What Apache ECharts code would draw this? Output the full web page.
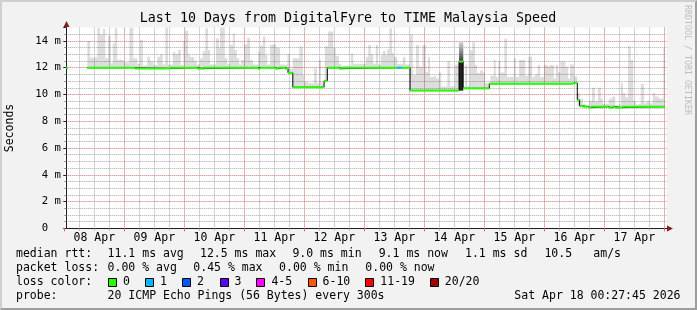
<!DOCTYPE html>
<html><head><meta charset="utf-8">
<script src="https://cdn.jsdelivr.net/npm/echarts@6/dist/echarts.min.js"></script>
<style>
html,body{margin:0;padding:0;background:#f2f2f2;overflow:hidden;}
#wrap{position:relative;width:697px;height:310px;}
#c{position:absolute;left:0;top:0;width:697px;height:310px;}
#frame{position:absolute;left:0;top:0;width:697px;height:310px;box-sizing:border-box;
  border-top:2px solid #cfcfcf;border-left:2px solid #cfcfcf;border-right:2px solid #9e9e9e;border-bottom:2px solid #9e9e9e;pointer-events:none;}
</style></head>
<body><div id="wrap"><div id="c"></div><div id="frame"></div></div>
<script>
// ---- data (hours since 08 Apr 00:00, values in ms) ----
const dayLabels = ['08 Apr','09 Apr','10 Apr','11 Apr','12 Apr','13 Apr','14 Apr','15 Apr','16 Apr','17 Apr'];
const yTickValues = [0, 2, 4, 6, 8, 10, 12, 14];
const yTickText = ['0  ', '2 m', '4 m', '6 m', '8 m', '10 m', '12 m', '14 m'];

const medianStart = [0.7, 1.5, 9.2, 28.2, 42.3, 53.2, 55.4, 77.5, 78.3, 84.4, 85.5, 88.3, 89.5, 91.4, 103.9, 105.2, 110.0, 111.3, 133.1, 135.1, 138.3, 157.9, 159.5, 170.0, 203.6, 205.2, 206.1, 207.5, 209.6, 210.7, 217.7, 218.9, 220.3, 223.1];
const medianValue = [12.0, null, 12.0, 11.94, 12.0, 11.93, 12.0, 11.93, 12.0, 11.93, 12.0, 11.93, 11.62, 10.54, 11.02, 12.0, 11.93, 12.0, 12.0, 12.0, 10.29, 12.46, 10.46, 10.81, 10.86, 9.59, 9.14, 9.09, 9.02, 9.09, 9.02, 9.09, 9.02, 9.09];
const medianLoss  = [0, 0, 0, 0, 0, 0, 0, 0, 0, 0, 0, 0, 0, 0, 0, 0, 0, 0, 1, 0, 0, 0, 0, 0, 0, 0, 0, 0, 0, 0, 0, 0, 0, 0];
const medianEnd = 240.2;

const smokeStart = [9.2,10.3,13.2,14.3,15.4,16.4,17.5,18.6,19.4,20.2,21.2,23.9,26.0,27.6,29.2,30.3,31.4,33.2,34.3,35.6,37.2,38.3,39.4,40.4,41.5,43.4,44.4,45.5,46.6,47.6,48.2,
49.5,50.3,51.9,53.0,54.3,55.4,56.4,57.5,58.3,60.7,61.8,62.3,64.2,65.2,66.3,67.4,68.2,69.0,70.0,70.8,71.9,73.2,74.3,75.4,77.5,78.3,79.4,80.4,81.2,82.3,83.4,84.7,86.3,89.2,90.3,91.4,94.0,95.4,
95.9,97.5,99.9,101.0,101.9,102.7,103.9,104.2,105.5,107.6,108.6,109.9,110.7,114.6,115.6,120.6,121.6,122.6,123.6,124.6,125.5,126.6,127.4,128.4,129.2,130.0,131.1,131.9,133.2,135.4,136.4,138.3,139.4,140.7,141.9,143.2,144.6,
145.5,146.3,147.9,148.7,149.8,150.8,153.2,154.3,156.2,157.2,157.9,159.6,160.3,161.2,162.2,163.2,164.3,165.1,166.2,167.5,168.3,169.8,170.4,171.8,172.6,173.6,174.4,176.0,177.1,179.8,180.6,181.9,184.4,185.6,187.1,188.2,189.4,190.3,191.8,193.4,194.2,195.8,196.6,197.5,198.4,200.4,201.5,202.3,203.9,
205.2,206.3,207.4,208.4,210.0,211.1,212.2,213.5,214.6,215.4,217.8,219.1,220.4,221.5,222.6,223.4,224.4,225.5,226.6,227.6,228.7,229.8,230.6,231.9,232.7,234.0,235.4,236.4,237.8,239.6];
const smokeTop = [14.0,12.76,15,14.46,14.9,12.7,14.4,12.33,13.83,15,12.58,12.41,15,12.7,12.28,14.08,12.16,12.83,12.47,12.2,12.83,13.0,12.25,15,12.25,13.2,13.0,13.33,12.2,14.0,14.76,
13.0,12.8,12.55,12.25,12.7,13.26,14.96,13.33,12.25,14.2,13.5,15,12.7,12.25,13.7,14.58,13.33,12.7,12.25,12.58,13.75,14.25,12.58,12.25,13.2,13.66,14.33,12.95,12.25,13.7,13.75,13.5,12.25,13.0,11.9,12.7,13.58,11.46,
10.96,10.85,11.96,10.85,12.58,10.85,11.1,13.6,14.7,13.5,12.9,12.3,12.15,13.08,12.3,12.8,13.7,13.0,12.3,13.7,12.25,12.95,13.25,12.95,13.4,14.96,13.08,12.8,12.3,12.8,12.25,14.5,11.46,13.7,12.08,13.7,11.7,
12.8,11.3,11.4,11.2,11.65,10.6,12.5,10.6,12.2,12.3,12.46,10.6,12.2,10.6,13.33,13.9,12.2,11.6,11.8,11.65,10.85,10.6,11.4,12.58,11.3,12.5,11.65,14.16,11.3,12.7,11.3,12.58,11.4,12.83,11.3,11.5,12.2,11.3,12.2,12.1,12.2,11.2,12.2,11.65,12.46,12.08,11.2,12.25,11.35,
10.08,9.66,9.3,9.2,9.5,10.51,9.5,10.5,9.7,9.3,9.7,9.85,9.2,9.25,10.9,10.1,9.8,13.58,12.58,9.5,9.26,9.3,10.8,9.35,9.5,9.35,10.1,9.85,9.7,13.5];
const smokeEnd = 240.2;

const darkStart = [157.9], darkEnd = [159.6], darkLow = [10.29], darkMid = [12.46], darkHigh = [14.0];

const lossColors = ['#26ff00', '#00b8ff', '#0059ff', '#5e00ff', '#ff00ff', '#ff5500', '#ff0000', '#a10000'];
const lossLabels = ['0', '1', '2', '3', '4-5', '6-10', '11-19', '20/20'];

// ---- build series data ----
function medianAt(t) {
  let v = null;
  for (let i = 0; i < medianStart.length; i++) { if (medianStart[i] <= t) v = medianValue[i]; else break; }
  return v;
}
function medianMinIn(t0, t1) {
  let m = medianAt(t0);
  for (let i = 0; i < medianStart.length; i++) {
    if (medianStart[i] > t0 && medianStart[i] < t1 && medianValue[i] != null) m = Math.min(m, medianValue[i]);
  }
  return m;
}
const smokeData = [];
for (let i = 0; i < smokeStart.length; i++) {
  const t0 = smokeStart[i], t1 = (i + 1 < smokeStart.length) ? smokeStart[i + 1] : smokeEnd;
  const lo = medianMinIn(t0, t1);
  smokeData.push([t0, t1, lo, Math.max(lo, smokeTop[i])]);
}
const segData = [];
for (let i = 0; i < medianStart.length; i++) {
  if (medianValue[i] == null) continue;
  const t1 = (i + 1 < medianStart.length) ? medianStart[i + 1] : medianEnd;
  segData.push([medianStart[i], t1, medianValue[i], medianLoss[i]]);
}
const stepData = [];
for (let i = 2; i < medianStart.length; i++) stepData.push([medianStart[i], medianValue[i]]);
stepData.push([medianEnd, medianValue[medianValue.length - 1]]);
const darkData = darkStart.map((s, i) => [s, darkEnd[i], darkLow[i], darkMid[i], darkHigh[i]]);

// ---- chart ----
const MONO = 'DejaVu Sans Mono';
const chart = echarts.init(document.getElementById('c'), null, {renderer: 'canvas'});
const commonX = {type: 'value', min: 0, max: 241, gridIndex: 0, position: 'bottom', offset: 0};
const commonY = {type: 'value', min: 0, max: 15, gridIndex: 0, position: 'left', offset: -2};
const MINOR = {color: '#a9a9a9', type: [1, 1], width: 1};
const MAJOR = {color: '#ef9494', type: [1, 1], width: 1};

function txt(x, y, s, opts) {
  opts = opts || {};
  return {type: 'text', x: x, y: y, silent: true, rotation: opts.rotation || 0, z: 100,
    style: {text: s, fontFamily: MONO, fontSize: opts.size || 11.5, fill: opts.color || '#000',
      align: opts.align || 'left', verticalAlign: 'middle', textAlign: opts.align || 'left', textVerticalAlign: 'middle'}};
}
const graphics = [];
graphics.push(txt(348, 19, 'Last 10 Days from DigitalFyre to TIME Malaysia Speed', {size: 13.3, align: 'center'}));
graphics.push(txt(10, 128, 'Seconds', {rotation: Math.PI / 2, align: 'center'}));
graphics.push(txt(687, 60, 'RRDTOOL / TOBI OETIKER', {rotation: -Math.PI / 2, align: 'center', size: 8.3, color: '#bdbdbd'}));
// axis arrows
graphics.push({type: 'polygon', silent: true, z: 100, shape: {points: [[66.5, 21], [63.5, 27], [69.5, 27]]}, style: {fill: '#801f1f'}});
graphics.push({type: 'polygon', silent: true, z: 100, shape: {points: [[673, 228.5], [667, 225.5], [667, 231.5]]}, style: {fill: '#801f1f'}});
// legend lines
const L1 = 254.3, L2 = 268.3, L3 = 282.3, L4 = 296.2;
[['median rtt:', 16], ['11.1 ms avg', 107.6], ['12.5 ms max', 200], ['9.0 ms min', 292.4], ['9.1 ms now', 378.7], ['1.1 ms sd', 465], ['10.5', 544.4], ['am/s', 593.3]]
  .forEach(p => graphics.push(txt(p[1], L1, p[0])));
[['packet loss:', 16], ['0.00 % avg', 107.6], ['0.45 % max', 193.3], ['0.00 % min', 279.1], ['0.00 % now', 365.3]]
  .forEach(p => graphics.push(txt(p[1], L2, p[0])));
graphics.push(txt(16, L3, 'loss color:'));
const boxX = [108, 145, 182, 219.6, 256.4, 307.6, 365.3, 429.8];
lossLabels.forEach((lab, i) => {
  graphics.push({type: 'rect', silent: true, z: 100, shape: {x: Math.round(boxX[i]) + 0.5, y: 278.5, width: 8, height: 8},
    style: {fill: lossColors[i], stroke: '#000', lineWidth: 1}});
  graphics.push(txt(boxX[i] + 15, L3, lab));
});
graphics.push(txt(16, L4, 'probe:'));
graphics.push(txt(107.6, L4, '20 ICMP Echo Pings (56 Bytes) every 300s'));
graphics.push(txt(680.5, L4, 'Sat Apr 18 00:27:45 2026', {align: 'right'}));

const option = {
  animation: false,
  backgroundColor: 'transparent',
  grid: {left: 64.3, top: 27.6, width: 602.5, height: 200.7, show: true, backgroundColor: '#ffffff', borderWidth: 0, containLabel: false},
  xAxis: [
    Object.assign({}, commonX, {interval: 6,
      splitLine: {show: true, showMinLine: false, showMaxLine: false, lineStyle: MINOR},
      axisLine: {show: false, onZero: false}, axisTick: {show: true, length: 2, lineStyle: {color: '#9a9a9a'}}, axisLabel: {show: false}}),
    Object.assign({}, commonX, {interval: 24,
      splitLine: {show: true, showMinLine: false, showMaxLine: false, lineStyle: MAJOR},
      axisLine: {show: true, onZero: false, lineStyle: {color: '#1f1f1f', width: 1}}, axisTick: {show: true, length: 3, lineStyle: {color: '#e06060'}}, axisLabel: {show: false}}),
    Object.assign({}, commonX, {interval: 12, splitLine: {show: false}, axisLine: {show: false, onZero: false}, axisTick: {show: false},
      axisLabel: {show: true, margin: 4, fontFamily: MONO, fontSize: 11.5, color: '#000', showMinLabel: false, showMaxLabel: false,
        formatter: v => { const k = (v - 12) / 24; return (Number.isInteger(k) && dayLabels[k]) ? dayLabels[k] : ''; }}})
  ],
  yAxis: [
    Object.assign({}, commonY, {interval: 0.5,
      splitLine: {show: true, showMinLine: false, showMaxLine: false, lineStyle: MINOR},
      axisLine: {show: false, onZero: false}, axisTick: {show: true, length: 2, lineStyle: {color: '#9a9a9a'}}, axisLabel: {show: false}}),
    Object.assign({}, commonY, {interval: 2,
      splitLine: {show: true, showMinLine: false, showMaxLine: false, lineStyle: MAJOR},
      axisLine: {show: true, onZero: false, lineStyle: {color: '#1f1f1f', width: 1}}, axisTick: {show: true, length: 3, lineStyle: {color: '#1f1f1f'}},
      axisLabel: {show: true, margin: 5.5, fontFamily: MONO, fontSize: 10.6, color: '#000',
        formatter: v => { const k = yTickValues.indexOf(v); return k >= 0 ? yTickText[k] : ''; }}})
  ],
  graphic: {elements: graphics},
  series: [
    {
      type: 'custom', name: 'smoke', xAxisIndex: 0, yAxisIndex: 0, z: 2, silent: true, clip: true,
      encode: {x: [0, 1], y: [2, 3]},
      data: smokeData,
      renderItem: (params, api) => {
        const a = api.coord([api.value(0), api.value(3)]);
        const b = api.coord([api.value(1), api.value(2)]);
        return {type: 'rect', shape: {x: a[0], y: a[1], width: b[0] - a[0], height: b[1] - a[1]},
          style: {fill: 'rgba(0,0,0,0.135)'}};
      }
    },
    {
      type: 'custom', name: 'dense', xAxisIndex: 0, yAxisIndex: 0, z: 3, silent: true,
      encode: {x: [0, 1], y: [2, 4]},
      data: darkData,
      renderItem: (params, api) => {
        const x0 = api.coord([api.value(0), 0])[0], x1 = api.coord([api.value(1), 0])[0];
        const yl = api.coord([0, api.value(2)])[1], ym = api.coord([0, api.value(3)])[1], yh = api.coord([0, api.value(4)])[1];
        return {type: 'group', children: [
          {type: 'rect', shape: {x: x0, y: ym, width: x1 - x0, height: yl - ym}, style: {fill: '#222222'}},
          {type: 'rect', shape: {x: x0, y: yh, width: x1 - x0, height: ym - yh},
            style: {fill: new echarts.graphic.LinearGradient(0, 0, 0, 1, [{offset: 0, color: '#dcdcdc'}, {offset: 1, color: '#3c3c3c'}])}}
        ]};
      }
    },
    {
      type: 'line', name: 'step', xAxisIndex: 0, yAxisIndex: 0, z: 4, silent: true, step: 'end', showSymbol: false, symbol: 'none',
      data: stepData, lineStyle: {color: '#000', width: 1}
    },
    {
      type: 'custom', name: 'median', xAxisIndex: 0, yAxisIndex: 0, z: 5, silent: true,
      encode: {x: [0, 1], y: 2},
      data: segData,
      renderItem: (params, api) => {
        const a = api.coord([api.value(0), api.value(2)]);
        const b = api.coord([api.value(1), api.value(2)]);
        return {type: 'rect', shape: {x: a[0], y: a[1] - 1, width: b[0] - a[0], height: 2},
          style: {fill: lossColors[api.value(3)]}};
      }
    }
  ]
};
chart.setOption(option);
</script>
</body></html>
